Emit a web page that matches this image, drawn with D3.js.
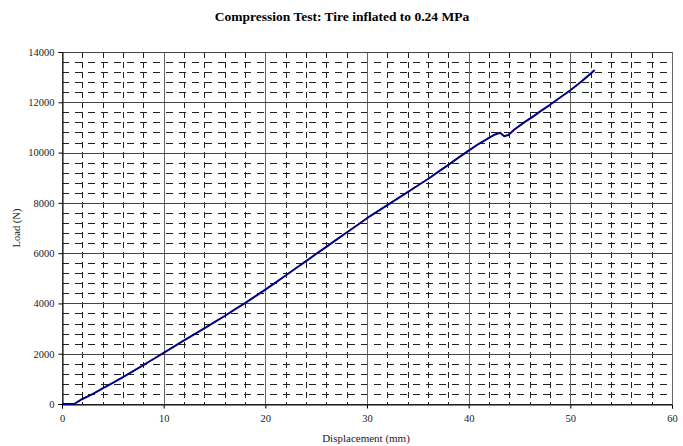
<!DOCTYPE html>
<html><head><meta charset="utf-8">
<script src="https://cdn.jsdelivr.net/npm/d3@7"></script>
<style>body{margin:0;background:#fff}svg{display:block}</style>
</head><body>
<script>
const title = "Compression Test: Tire inflated to 0.24 MPa";
const xLabel = "Displacement (mm)";
const yLabel = "Load (N)";
const xTicks = [0,10,20,30,40,50,60];
const yTicks = [0,2000,4000,6000,8000,10000,12000,14000];
const displacement = [0,0.6,1.2,2.0,3.0,4.0,5.0,6.0,7.0,8.0,9.0,10.0,11.0,12.0,13.0,14.0,15.0,16.0,17.0,18.0,19.0,20.0,21.0,22.0,23.0,24.0,25.0,26.0,27.0,28.0,29.0,30.0,31.0,32.0,33.0,34.0,35.0,36.0,37.0,38.0,39.0,40.0,41.0,42.0,42.6,43.1,43.5,43.9,44.5,45.5,46.5,47.0,48.0,49.0,50.0,51.0,52.0,52.4];
const load = [0,0,0,200,390,620,840,1070,1310,1550,1790,2030,2280,2530,2770,3010,3260,3500,3760,4010,4280,4550,4830,5110,5400,5680,5970,6250,6540,6820,7100,7390,7650,7910,8170,8430,8690,8950,9230,9510,9800,10080,10350,10580,10720,10790,10650,10700,10920,11210,11480,11630,11900,12190,12480,12800,13140,13280];

const W = 683, H = 446;
const m = {left: 62, right: 11, top: 52, bottom: 42};
const svg = d3.select("body").append("svg").attr("width", W).attr("height", H);
const x = d3.scaleLinear().domain([0,60]).range([m.left, W - m.right]);
const y = d3.scaleLinear().domain([0,14000]).range([H - m.bottom, m.top]);
const font = "'Liberation Serif', 'DejaVu Serif', serif";

// minor grid
const g = svg.append("g");
g.selectAll("line.minx").data(d3.range(0,61,2).filter(v => v % 10 !== 0)).join("line")
  .attr("x1", d => Math.round(x(d))+0.5).attr("x2", d => Math.round(x(d))+0.5).attr("y1", y(14000)).attr("y2", y(0))
  .attr("stroke", "#222").attr("stroke-dasharray", "6,4");
g.selectAll("line.miny").data(d3.range(0,14001,400).filter(v => v % 2000 !== 0)).join("line")
  .attr("y1", d => Math.round(y(d))+0.5).attr("y2", d => Math.round(y(d))+0.5).attr("x1", x(0)).attr("x2", x(60))
  .attr("stroke", "#222").attr("stroke-dasharray", "7,6");
// major grid
g.selectAll("line.majx").data(xTicks).join("line")
  .attr("x1", d => Math.round(x(d))+0.5).attr("x2", d => Math.round(x(d))+0.5).attr("y1", y(14000)).attr("y2", y(0))
  .attr("stroke", "#666");
g.selectAll("line.majy").data(yTicks).join("line")
  .attr("y1", d => Math.round(y(d))+0.5).attr("y2", d => Math.round(y(d))+0.5).attr("x1", x(0)).attr("x2", x(60))
  .attr("stroke", "#444");

// axes
const xAxis = svg.append("g").attr("transform", `translate(0,${Math.round(y(0))+0.5})`)
  .call(d3.axisBottom(x).tickValues(xTicks).tickSize(4).tickPadding(6).tickFormat(d3.format("d")));
const yAxis = svg.append("g").attr("transform", `translate(${Math.round(x(0))+0.5},0)`)
  .call(d3.axisLeft(y).tickValues(yTicks).tickSize(4).tickPadding(4).tickFormat(d3.format("d")));
[xAxis, yAxis].forEach(a => {
  a.select(".domain").attr("stroke", "#000");
  a.selectAll(".tick line").attr("stroke", "#000");
  a.selectAll("text").attr("font-family", font).attr("font-size", 10.5).attr("fill", "#222");
});

// line
svg.append("path")
  .datum(displacement.map((d,i) => [d, load[i]]))
  .attr("fill", "none").attr("stroke", "#000080").attr("stroke-width", 2).attr("stroke-linejoin", "round")
  .attr("d", d3.line().x(d => x(d[0])).y(d => y(d[1])));

// labels
svg.append("text").attr("x", 342).attr("y", 21).attr("text-anchor", "middle")
  .attr("font-family", font).attr("font-weight", "bold").attr("font-size", 13.5).text(title);
svg.append("text").attr("x", 366).attr("y", 442).attr("text-anchor", "middle")
  .attr("font-family", font).attr("font-size", 11).attr("fill", "#222").text(xLabel);
svg.append("text").attr("transform", "translate(20,228) rotate(-90)").attr("text-anchor", "middle")
  .attr("font-family", font).attr("font-size", 10.5).attr("fill", "#222").text(yLabel);
</script>
</body></html>
